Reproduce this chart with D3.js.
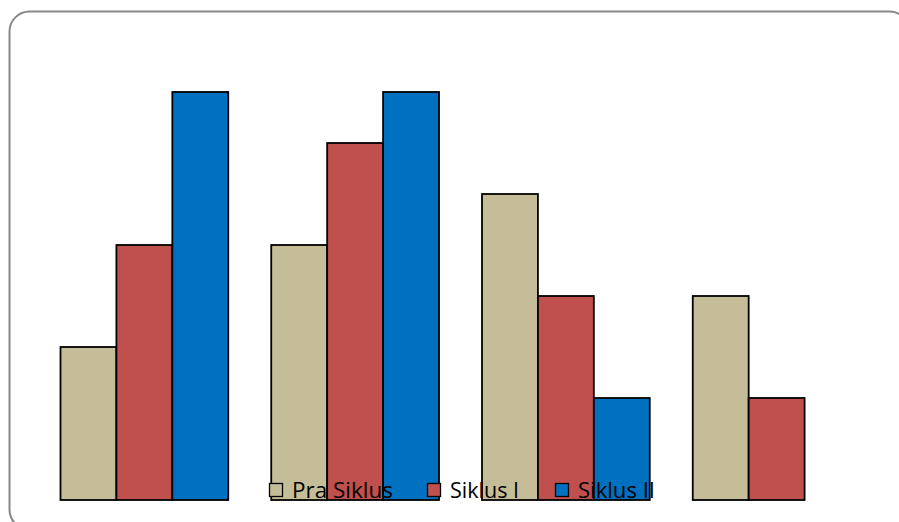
<!DOCTYPE html>
<html>
<head>
<meta charset="utf-8">
<script src="https://cdn.jsdelivr.net/npm/d3@7"></script>
<style>
  html, body { margin: 0; padding: 0; background: #fff; }
  svg { display: block; }
</style>
</head>
<body>
<svg id="chart" width="899" height="522"></svg>
<script>
// Chart data
const categories = ["A", "B", "C", "D"];
const seriesNames = ["Pra Siklus", "Siklus I", "Siklus II"];
const praSiklus = [3, 5, 6, 4];
const siklusI   = [5, 7, 4, 2];
const siklusII  = [8, 8, 2, null];
const seriesColors = ["#C4BD97", "#C0504D", "#0070C0"];

const seriesValues = [praSiklus, siklusI, siklusII];

const svg = d3.select("#chart");

// Rounded frame around the chart
svg.append("rect")
  .attr("x", 11).attr("y", 13)
  .attr("width", 900).attr("height", 520)
  .attr("rx", 20).attr("ry", 20)
  .attr("fill", "none")
  .attr("stroke", "#d0d0d0")
  .attr("stroke-width", 2);
svg.append("rect")
  .attr("x", 9.5).attr("y", 11.5)
  .attr("width", 900).attr("height", 518)
  .attr("rx", 20).attr("ry", 20)
  .attr("fill", "#fff")
  .attr("stroke", "#888")
  .attr("stroke-width", 2);

const x0 = d3.scaleBand()
  .domain(categories)
  .range([39, 882])
  .paddingInner(0.204)
  .paddingOuter(0.102);

const x1 = d3.scaleBand()
  .domain(seriesNames)
  .range([0, x0.bandwidth()]);

const y = d3.scaleLinear()
  .domain([0, 8])
  .range([500, 92]);

const rows = [];
categories.forEach((c, i) => {
  seriesNames.forEach((s, j) => {
    const v = seriesValues[j][i];
    if (v != null) rows.push({ cat: c, series: s, value: v, color: seriesColors[j] });
  });
});

svg.append("g")
  .selectAll("rect")
  .data(rows)
  .join("rect")
  .attr("x", d => x0(d.cat) + x1(d.series))
  .attr("y", d => y(d.value))
  .attr("width", x1.bandwidth())
  .attr("height", d => y(0) - y(d.value))
  .attr("fill", d => d.color)
  .attr("stroke", "#000")
  .attr("stroke-width", 1.8);

// Legend along the bottom, drawn over the bars
const legendX = [269, 427, 555];
const legendW = [101, 69, 77];
const legend = svg.append("g")
  .selectAll("g")
  .data(seriesNames)
  .join("g")
  .attr("transform", (d, i) => `translate(${legendX[i]},483)`);

legend.append("rect")
  .attr("x", 0.5).attr("y", 0.5)
  .attr("width", 13).attr("height", 13)
  .attr("fill", (d, i) => seriesColors[i])
  .attr("stroke", "#000")
  .attr("stroke-width", 1.3);

legend.append("text")
  .attr("x", 23)
  .attr("y", 14.5)
  .attr("font-family", "'Open Sans', Lato, sans-serif")
  .attr("font-size", 22)
  .attr("fill", "#000")
  .attr("textLength", (d, i) => legendW[i])
  .attr("lengthAdjust", "spacingAndGlyphs")
  .text(d => d);
</script>
</body>
</html>
